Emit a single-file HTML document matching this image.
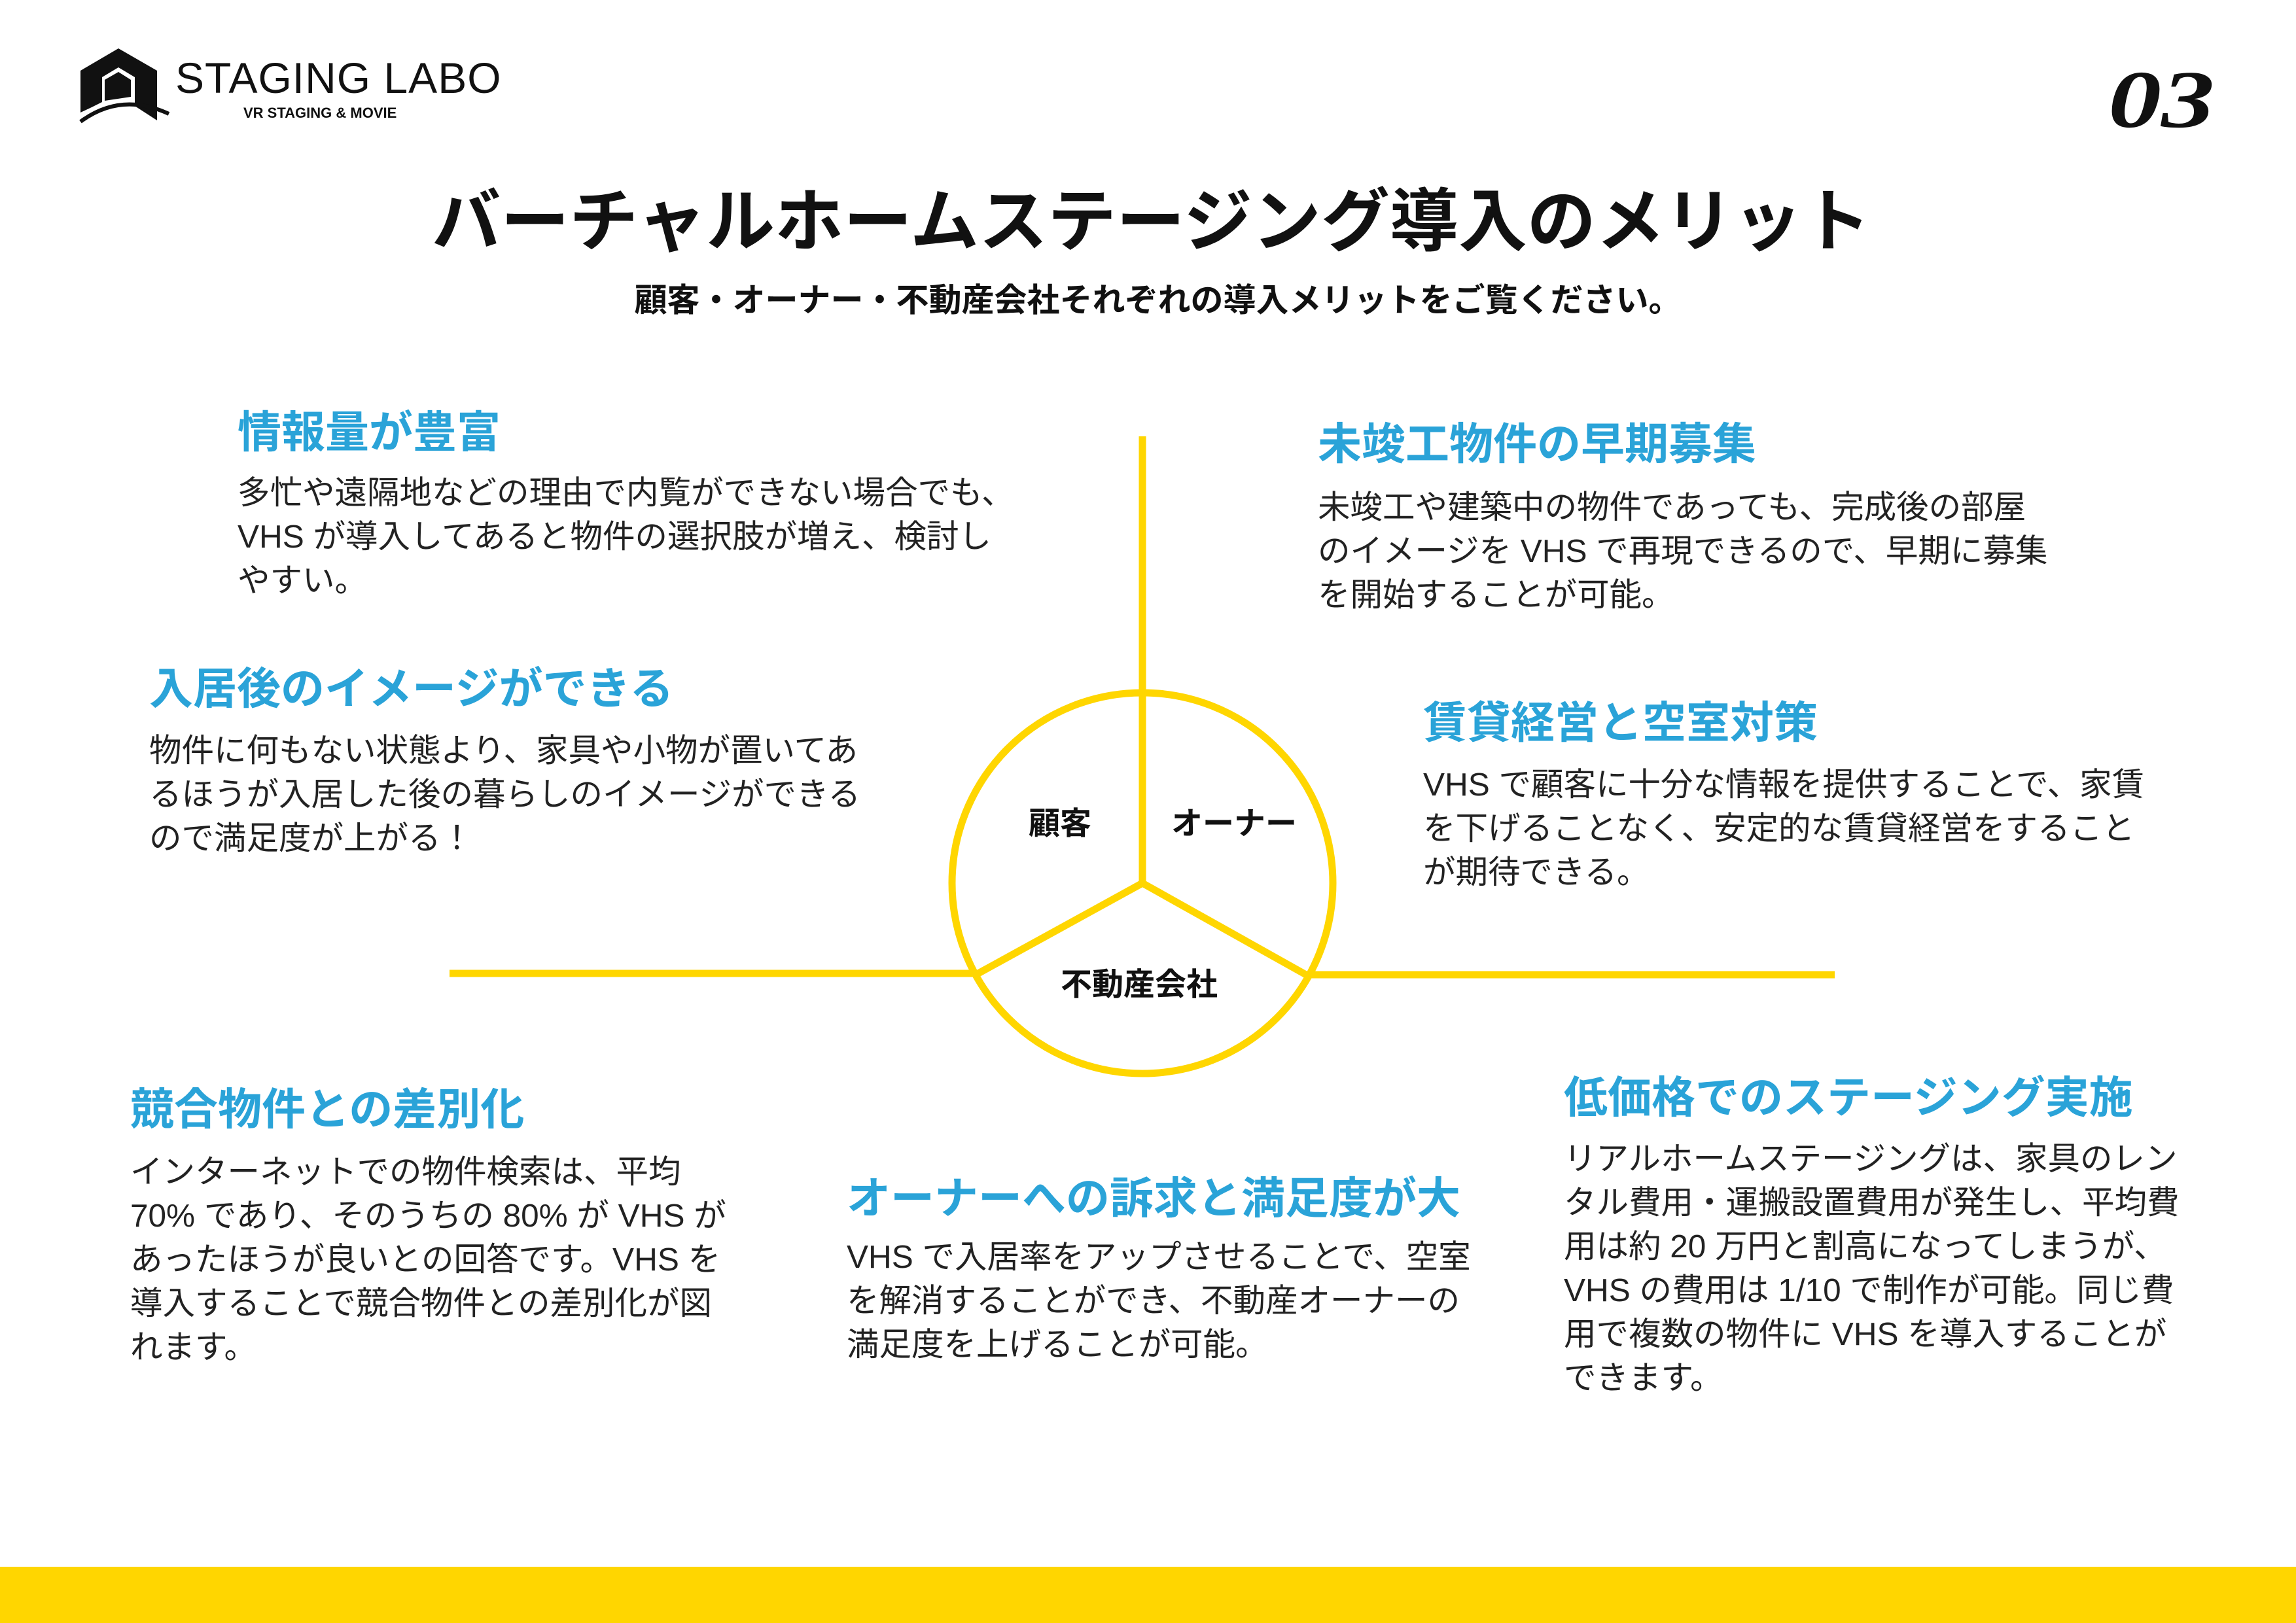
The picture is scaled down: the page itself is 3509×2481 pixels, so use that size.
<!DOCTYPE html>
<html><head><meta charset="utf-8">
<style>
*{margin:0;padding:0;box-sizing:border-box}
html,body{width:3509px;height:2481px;background:#fff;overflow:hidden}
body{position:relative;font-family:"Liberation Sans","Noto Sans CJK JP",sans-serif;color:#111}
.a{position:absolute;white-space:nowrap}
.h{color:#2aa3d8;font-weight:700;font-size:67px;line-height:80px}
.b{font-size:49.5px;line-height:67px;color:#222}
.lab{font-size:48px;font-weight:700;line-height:50px}
</style></head><body>
<svg class="a" style="left:0;top:0" width="3509" height="2481">
  <path d="M123 108 L181 74 L240 108 L240 184 L206 162 L206 118 L181 103 L156 118 L156 156 L140 164 L123 172 Z" fill="#111"/>
  <path d="M160 154 L160 122 L181 110 L200 122 L200 148 Z" fill="#111"/>
  <path d="M123 186 Q185 140 258 174" stroke="#111" stroke-width="6" fill="none"/>
  <g stroke="#FFD600" stroke-width="11" fill="none">
    <line x1="1746" y1="667" x2="1746" y2="1350"/>
    <circle cx="1746" cy="1350" r="291"/>
    <line x1="687" y1="1488" x2="1495" y2="1488"/>
    <line x1="1996" y1="1490" x2="2804" y2="1490"/>
    <line x1="1746" y1="1350" x2="1495" y2="1488"/>
    <line x1="1746" y1="1350" x2="1996" y2="1490"/>
  </g>
  <rect x="0" y="2395" width="3509" height="86" fill="#FFD600"/>
</svg>
<div class="a" style="left:268px;top:84px;font-size:66px;line-height:70px;letter-spacing:1px">STAGING LABO</div>
<div class="a" style="left:372px;top:160px;font-size:22px;font-weight:700;line-height:26px">VR STAGING &amp; MOVIE</div>
<div class="a" style="left:3222px;top:88px;font-family:'Liberation Serif',serif;font-style:italic;font-weight:700;font-size:125px;line-height:130px;transform:scaleX(1.3);transform-origin:left top">03</div>

<div class="a" style="left:0;width:3509px;text-align:center;top:280px;font-size:105px;font-weight:700;line-height:120px;padding-left:10px">バーチャルホームステージング導入のメリット</div>
<div class="a" style="left:0;width:3509px;text-align:center;top:430px;font-size:50px;font-weight:700;line-height:58px;padding-left:30px">顧客・オーナー・不動産会社それぞれの導入メリットをご覧ください。</div>

<div class="a lab" style="left:1572px;top:1235px">顧客</div>
<div class="a lab" style="left:1790px;top:1235px">オーナー</div>
<div class="a lab" style="left:1621px;top:1481px">不動産会社</div>

<div class="a h" style="left:363px;top:622px">情報量が豊富</div>
<div class="a b" style="left:363px;top:720px">多忙や遠隔地などの理由で内覧ができない場合でも、<br>VHS が導入してあると物件の選択肢が増え、検討し<br>やすい。</div>

<div class="a h" style="left:228px;top:1014px">入居後のイメージができる</div>
<div class="a b" style="left:228px;top:1114px">物件に何もない状態より、家具や小物が置いてあ<br>るほうが入居した後の暮らしのイメージができる<br>ので満足度が上がる！</div>

<div class="a h" style="left:199px;top:1657px">競合物件との差別化</div>
<div class="a b" style="left:199px;top:1758px">インターネットでの物件検索は、平均<br>70% であり、そのうちの 80% が VHS が<br>あったほうが良いとの回答です。VHS を<br>導入することで競合物件との差別化が図<br>れます。</div>

<div class="a h" style="left:1294px;top:1793px">オーナーへの訴求と満足度が大</div>
<div class="a b" style="left:1294px;top:1888px">VHS で入居率をアップさせることで、空室<br>を解消することができ、不動産オーナーの<br>満足度を上げることが可能。</div>

<div class="a h" style="left:2390px;top:1639px">低価格でのステージング実施</div>
<div class="a b" style="left:2390px;top:1738px">リアルホームステージングは、家具のレン<br>タル費用・運搬設置費用が発生し、平均費<br>用は約 20 万円と割高になってしまうが、<br>VHS の費用は 1/10 で制作が可能。同じ費<br>用で複数の物件に VHS を導入することが<br>できます。</div>

<div class="a h" style="left:2175px;top:1066px">賃貸経営と空室対策</div>
<div class="a b" style="left:2175px;top:1166px">VHS で顧客に十分な情報を提供することで、家賃<br>を下げることなく、安定的な賃貸経営をすること<br>が期待できる。</div>

<div class="a h" style="left:2014px;top:640px">未竣工物件の早期募集</div>
<div class="a b" style="left:2014px;top:742px">未竣工や建築中の物件であっても、完成後の部屋<br>のイメージを VHS で再現できるので、早期に募集<br>を開始することが可能。</div>
</body></html>
